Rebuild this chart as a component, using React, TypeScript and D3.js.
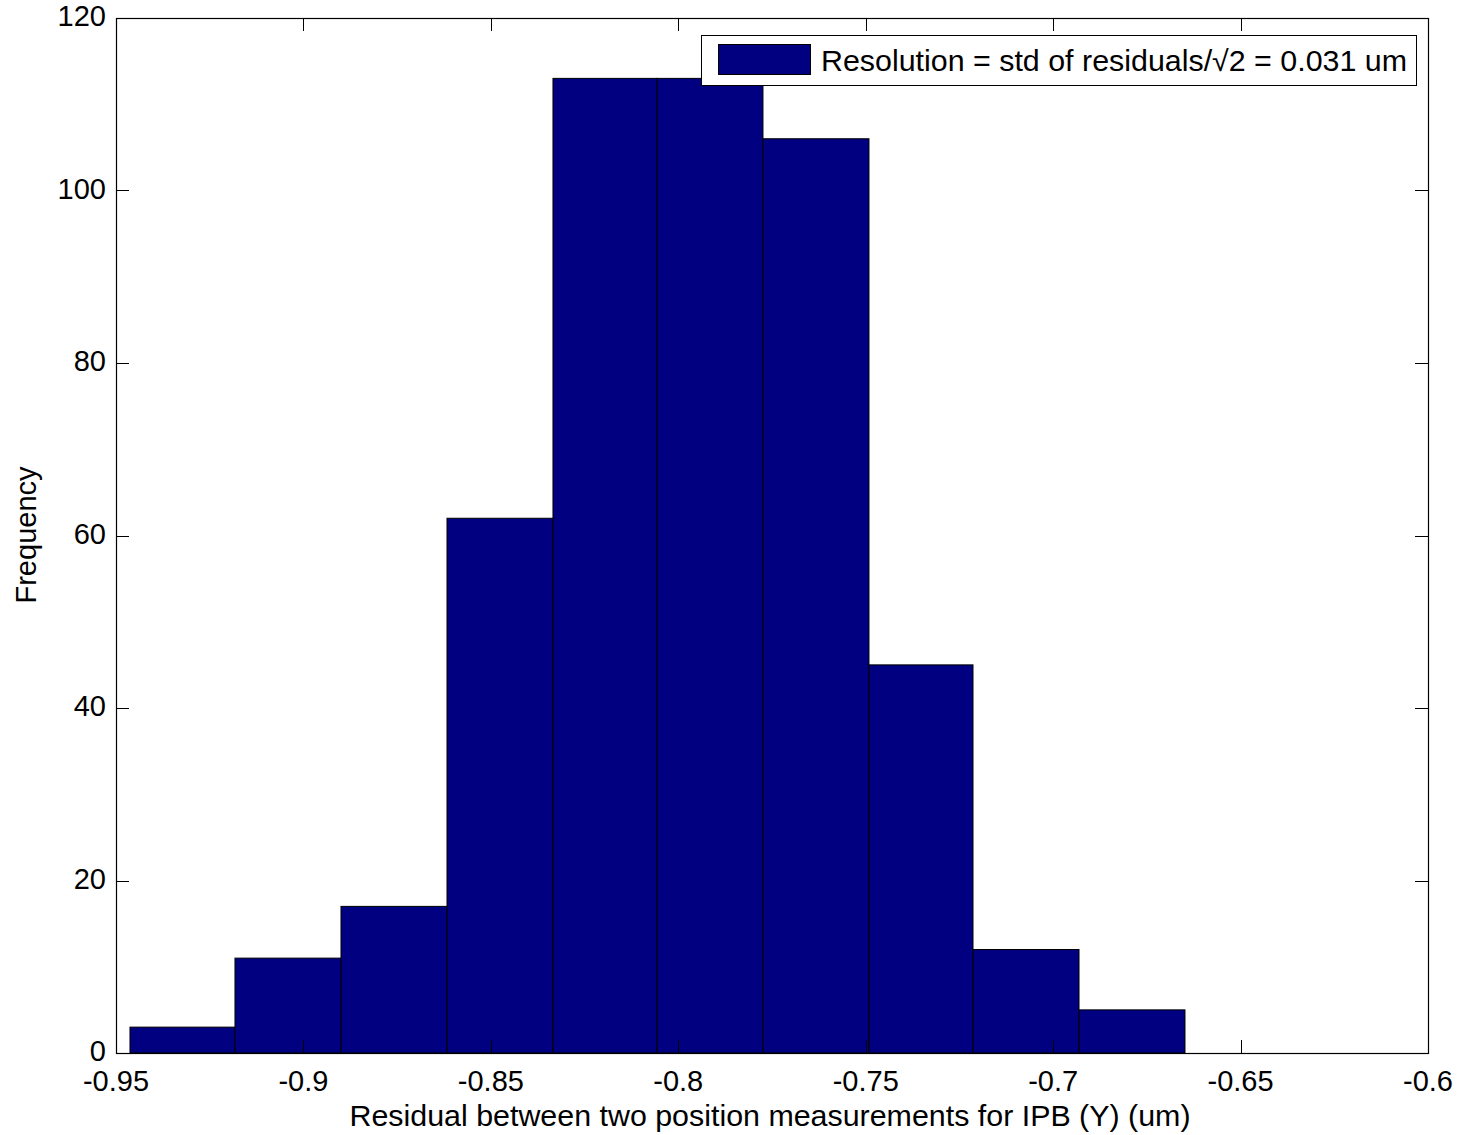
import React, { useEffect, useRef } from "react";
import * as d3 from "d3";

const binEdges: number[] = [-0.94627, -0.91826, -0.88998, -0.8617, -0.83343, -0.80568, -0.77741, -0.74913, -0.72138, -0.6931, -0.66483];
const counts: number[] = [3, 11, 17, 62, 113, 113, 106, 45, 12, 5];
const xTicks: number[] = [-0.95, -0.9, -0.85, -0.8, -0.75, -0.7, -0.65, -0.6];
const yTicks: number[] = [0, 20, 40, 60, 80, 100, 120];
const legendLabel = "Resolution = std of residuals/\u221A2 = 0.031 um";
const xLabel = "Residual between two position measurements for IPB (Y) (um)";
const yLabel = "Frequency";

const W = 1462, H = 1135;
const M = { left: 116, right: 1428, top: 18, bottom: 1053 };
const FONT = "'Liberation Sans', Arial, sans-serif";

export default function App() {
  const ref = useRef<SVGSVGElement>(null);
  useEffect(() => {
    const svg = d3.select(ref.current);
    svg.selectAll("*").remove();
    const x = d3.scaleLinear().domain([-0.95, -0.6]).range([M.left, M.right]);
    const y = d3.scaleLinear().domain([0, 120]).range([M.bottom, M.top]);

    svg.append("rect").attr("width", W).attr("height", H).attr("fill", "#fff");

    // bars
    svg.append("g").selectAll("rect").data(counts).join("rect")
      .attr("x", (_, i) => x(binEdges[i]))
      .attr("width", (_, i) => x(binEdges[i + 1]) - x(binEdges[i]))
      .attr("y", d => y(d))
      .attr("height", d => y(0) - y(d))
      .attr("fill", "#000080")
      .attr("stroke", "#000")
      .attr("stroke-width", 1);

    const g = svg.append("g").attr("stroke", "#000").attr("stroke-width", 1);
    const tl = 13;
    xTicks.forEach(t => {
      const px = Math.round(x(t)) + 0.5;
      g.append("line").attr("x1", px).attr("x2", px).attr("y1", M.bottom).attr("y2", M.bottom - tl);
      g.append("line").attr("x1", px).attr("x2", px).attr("y1", M.top).attr("y2", M.top + tl);
    });
    yTicks.forEach(t => {
      const py = Math.round(y(t)) + 0.5;
      g.append("line").attr("x1", M.left).attr("x2", M.left + tl).attr("y1", py).attr("y2", py);
      g.append("line").attr("x1", M.right).attr("x2", M.right - tl).attr("y1", py).attr("y2", py);
    });
    svg.append("rect").attr("x", M.left + 0.5).attr("y", M.top + 0.5)
      .attr("width", M.right - M.left).attr("height", M.bottom - M.top)
      .attr("fill", "none").attr("stroke", "#000").attr("stroke-width", 1.2);

    const tf = svg.append("g").attr("font-family", FONT).attr("font-size", 29).attr("fill", "#000");
    xTicks.forEach(t => {
      tf.append("text").attr("x", x(t)).attr("y", 1091).attr("text-anchor", "middle").text(String(t));
    });
    yTicks.forEach(t => {
      tf.append("text").attr("x", 106).attr("y", y(t) + 8).attr("text-anchor", "end").text(String(t));
    });
    tf.append("text").attr("x", 770).attr("y", 1126).attr("text-anchor", "middle")
      .attr("textLength", 841).attr("lengthAdjust", "spacingAndGlyphs").text(xLabel);
    tf.append("text").attr("transform", `translate(36,535) rotate(-90)`).attr("text-anchor", "middle").text(yLabel);

    // legend
    const lg = svg.append("g");
    lg.append("rect").attr("x", 701.5).attr("y", 35.5).attr("width", 715).attr("height", 50)
      .attr("fill", "#fff").attr("stroke", "#000").attr("stroke-width", 1);
    lg.append("rect").attr("x", 718.5).attr("y", 44.5).attr("width", 92).attr("height", 30)
      .attr("fill", "#000080").attr("stroke", "#000");
    lg.append("text").attr("x", 821).attr("y", 71).attr("font-family", FONT).attr("font-size", 29)
      .attr("textLength", 586).attr("lengthAdjust", "spacingAndGlyphs").text(legendLabel);
  }, []);
  return (
    <svg ref={ref} width={W} height={H} style={{ position: "absolute", left: 0, top: 0 }} />
  );
}
